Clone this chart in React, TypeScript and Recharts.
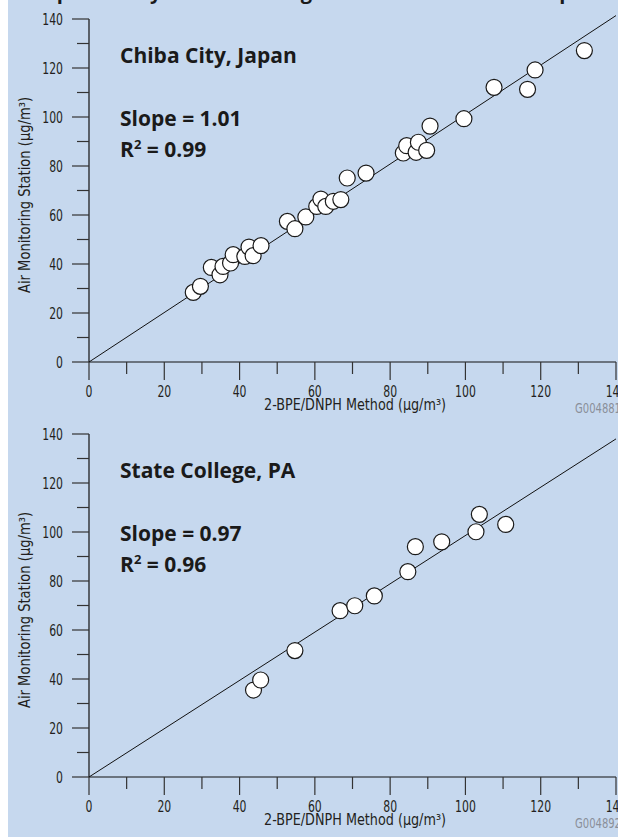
import { ReferenceLine, Scatter, ScatterChart, XAxis, YAxis } from "recharts";

const axisTicks = [0, 10, 20, 30, 40, 50, 60, 70, 80, 90, 100, 110, 120, 130, 140];

const chibaX = [
  27.7, 29.6, 32.5, 34.8, 35.6, 37.6, 38.3, 41.4, 42.5, 43.6, 45.7, 52.7, 54.7, 57.6, 60.5, 61.6,
  62.9, 64.9, 66.9, 68.6, 73.6, 83.5, 84.4, 86.9, 87.5, 89.7, 90.6, 99.6, 107.6, 116.5, 118.5, 131.6,
];
const chibaY = [
  28.4, 30.9, 38.6, 35.6, 39.0, 40.4, 43.8, 43.1, 46.9, 43.4, 47.5, 57.4, 54.4, 59.2, 63.5, 66.5,
  63.5, 65.6, 66.3, 75.1, 77.1, 85.3, 88.3, 85.6, 89.7, 86.4, 96.3, 99.3, 112.1, 111.3, 119.2, 127.1,
];

const stateX = [43.7, 45.6, 54.7, 66.7, 70.6, 75.8, 84.7, 86.7, 93.7, 102.8, 103.7, 110.7];
const stateY = [35.5, 39.6, 51.6, 67.9, 69.9, 73.9, 83.8, 94.0, 96.0, 100.1, 107.2, 103.1];

// fitted line end points (y at x = 140)
const chibaFitEnd = 141.4;
const stateFitEnd = 138;

const BG = "#c6d8ee";
const NARROW = "'DejaVu Sans Condensed', 'Liberation Sans Narrow', 'DejaVu Sans', sans-serif";
const BOLD = "'Open Sans', 'Noto Sans', sans-serif";
const narrowStyle = { fontStretch: "condensed" as const };
const DIGIT_W = 6.9; // condensed digit width

const W = 610;
const H = 415;

function XTick({ x, y, payload }: any) {
  const major = payload.value % 20 === 0;
  const label = String(payload.value);
  return (
    <g>
      <line x1={x} y1={y} x2={x} y2={y + (major ? 18 : 12)} stroke="#333" strokeWidth={1.2} />
      {major && (
        <text
          x={x - (label.length * DIGIT_W) / 2}
          y={y + 35}
          textLength={label.length * DIGIT_W}
          lengthAdjust="spacingAndGlyphs"
          fontSize={16}
          fill="#231f20"
          fontFamily={NARROW}
          style={narrowStyle}
        >
          {label}
        </text>
      )}
    </g>
  );
}

function YTick({ x, y, payload }: any) {
  const major = payload.value % 20 === 0;
  const label = String(payload.value);
  return (
    <g>
      <line x1={x - (major ? 17 : 12)} y1={y} x2={x} y2={y} stroke="#333" strokeWidth={1.2} />
      {major && (
        <text
          x={x - 26 - label.length * DIGIT_W}
          y={y + 5.5}
          textLength={label.length * DIGIT_W}
          lengthAdjust="spacingAndGlyphs"
          fontSize={16}
          fill="#231f20"
          fontFamily={NARROW}
          style={narrowStyle}
        >
          {label}
        </text>
      )}
    </g>
  );
}

const Dot = ({ cx, cy }: any) => (
  <circle cx={cx} cy={cy} r={8} fill="#fff" stroke="#1a1a1a" strokeWidth={1.2} />
);

function Panel({ xs, ys, fitEnd }: { xs: number[]; ys: number[]; fitEnd: number }) {
  const data = xs.map((x, i) => ({ x, y: ys[i] }));
  return (
    <ScatterChart width={W} height={H} margin={{ top: 19, right: 2, bottom: 23, left: 51 }}>
      <XAxis
        type="number"
        dataKey="x"
        domain={[0, 140]}
        ticks={axisTicks}
        interval={0}
        height={30}
        tickSize={0}
        tickMargin={0}
        tick={<XTick />}
        axisLine={{ stroke: "#111", strokeWidth: 1.2 }}
      />
      <YAxis
        type="number"
        dataKey="y"
        domain={[0, 140]}
        ticks={axisTicks}
        interval={0}
        width={30}
        tickSize={0}
        tickMargin={0}
        tick={<YTick />}
        axisLine={{ stroke: "#111", strokeWidth: 1.2 }}
      />
      <Scatter data={data} shape={<Dot />} isAnimationActive={false} />
      <ReferenceLine
        segment={[
          { x: 0, y: 0 },
          { x: 140, y: fitEnd },
        ]}
        stroke="#111"
        strokeWidth={1}
        ifOverflow="visible"
      />
    </ScatterChart>
  );
}

function PanelText({ top, city, slope, r2, code }: any) {
  return (
    <svg
      width={W}
      height={H}
      style={{ position: "absolute", left: 0, top, pointerEvents: "none" }}
    >
      <g fontFamily={BOLD} fontWeight={700} fontSize={21} fill="#1a1a1a">
        <text x={112} y={63}>{city}</text>
        <text x={112} y={126}>Slope = {slope}</text>
        <text x={112} y={157}>
          R<tspan fontSize={13} dy={-8}>2</tspan>
          <tspan dy={8}> = {r2}</tspan>
        </text>
      </g>
      <text
        x={256}
        y={410}
        textLength={182}
        lengthAdjust="spacingAndGlyphs"
        fontSize={16}
        fill="#231f20"
        fontFamily={NARROW}
        style={narrowStyle}
      >
        2-BPE/DNPH Method (µg/m³)
      </text>
      <text
        transform="translate(22,293) rotate(-90)"
        textLength={196}
        lengthAdjust="spacingAndGlyphs"
        fontSize={16}
        fill="#231f20"
        fontFamily={NARROW}
        style={narrowStyle}
      >
        Air Monitoring Station (µg/m³)
      </text>
      <text
        x={567}
        y={413}
        textLength={46}
        lengthAdjust="spacingAndGlyphs"
        fontSize={14}
        fill="#8a8f99"
        fontFamily={NARROW}
        style={narrowStyle}
      >
        {code}
      </text>
    </svg>
  );
}

export default function App() {
  return (
    <div
      style={{
        position: "absolute",
        left: 8,
        top: 0,
        width: W,
        height: 837,
        background: BG,
        overflow: "hidden",
      }}
    >
      <svg width={W} height={20} style={{ position: "absolute", left: 0, top: 0 }}>
        <text x={4} y={-1} fontFamily={BOLD} fontWeight={700} fontSize={20} fill="#1a1a1a">
          Comparison by Air Monitoring Station and Passive Sampler
        </text>
      </svg>
      <div style={{ position: "absolute", left: 0, top: 0 }}>
        <Panel xs={chibaX} ys={chibaY} fitEnd={chibaFitEnd} />
      </div>
      <div style={{ position: "absolute", left: 0, top: H }}>
        <Panel xs={stateX} ys={stateY} fitEnd={stateFitEnd} />
      </div>
      <PanelText top={0} city="Chiba City, Japan" slope="1.01" r2="0.99" code="G004881" />
      <PanelText top={H} city="State College, PA" slope="0.97" r2="0.96" code="G004892" />
    </div>
  );
}
